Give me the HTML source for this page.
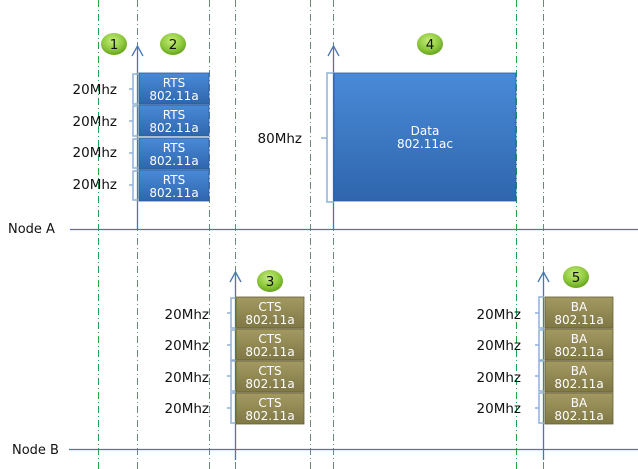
<!DOCTYPE html>
<html><head><meta charset="utf-8"><style>
html,body{margin:0;padding:0;background:#fff;}
svg{display:block;font-family:"DejaVu Sans","Liberation Sans",sans-serif;}
</style></head><body>
<svg width="638" height="469" viewBox="0 0 638 469" xmlns="http://www.w3.org/2000/svg">
<defs>
<linearGradient id="bl" x1="0" y1="0" x2="0" y2="1"><stop offset="0" stop-color="#4a8ad8"/><stop offset="1" stop-color="#2f66ad"/></linearGradient>
<linearGradient id="ol" x1="0" y1="0" x2="0" y2="1"><stop offset="0" stop-color="#a39a62"/><stop offset="1" stop-color="#7f7745"/></linearGradient>
<radialGradient id="gr" cx="0.45" cy="0.35" r="0.7"><stop offset="0" stop-color="#c6ec7a"/><stop offset="0.6" stop-color="#8cc83a"/><stop offset="1" stop-color="#5f9a1e"/></radialGradient>
</defs>
<g stroke="#1aa64a" stroke-width="1" stroke-dasharray="7,3,1,3" fill="none">
<line x1="98.5" y1="0" x2="98.5" y2="469"/>
<line x1="516.5" y1="0" x2="516.5" y2="469"/>
</g>
<g stroke="#6b8a78" stroke-width="1" stroke-dasharray="7,3,1,3" fill="none">
<line x1="137.5" y1="0" x2="137.5" y2="469"/>
<line x1="209.5" y1="0" x2="209.5" y2="469"/>
<line x1="235.5" y1="0" x2="235.5" y2="469"/>
<line x1="310.5" y1="0" x2="310.5" y2="469"/>
<line x1="333.5" y1="0" x2="333.5" y2="469"/>
<line x1="543.5" y1="0" x2="543.5" y2="469"/>
</g>
<g stroke="#4a76b0" stroke-width="1.3" fill="none">
<line x1="70" y1="229.5" x2="638" y2="229.5"/>
<line x1="69" y1="449.5" x2="638" y2="449.5"/>
<line x1="137.5" y1="46" x2="137.5" y2="229"/><polyline points="132,56 137.5,46 143,56"/>
<line x1="333.5" y1="46" x2="333.5" y2="229"/><polyline points="328,56 333.5,46 339,56"/>
<line x1="235.5" y1="272" x2="235.5" y2="460"/><polyline points="230,282 235.5,272 241,282"/>
<line x1="543.5" y1="272" x2="543.5" y2="460"/><polyline points="538,282 543.5,272 549,282"/>
</g>
<text x="8" y="233" font-size="13" fill="#111">Node A</text>
<text x="12" y="454" font-size="13" fill="#111">Node B</text>
<g stroke="#8fb0d8" stroke-width="1.5" fill="none">
<path d="M138,74 H133 V104 H138 M133,89 H129"/>
<path d="M138,106 H133 V136 H138 M133,121 H129"/>
<path d="M138,139 H133 V168 H138 M133,153 H129"/>
<path d="M138,171 H133 V200 H138 M133,185 H129"/>
<path d="M334,73 H327 V202 H334 M327,138 H321"/>
<path d="M236,298 H231 V328 H236 M231,313 H227"/>
<path d="M236,330 H231 V360 H236 M231,345 H227"/>
<path d="M236,361 H231 V391 H236 M231,376 H227"/>
<path d="M236,393 H231 V423 H236 M231,408 H227"/>
<path d="M544,297 H539 V328 H544 M539,313 H535"/>
<path d="M544,330 H539 V360 H544 M539,345 H535"/>
<path d="M544,361 H539 V391 H544 M539,376 H535"/>
<path d="M544,393 H539 V423 H544 M539,408 H535"/>
</g>
<g font-size="13.5" fill="#111" text-anchor="end">
<text x="117" y="94">20Mhz</text><text x="117" y="126">20Mhz</text><text x="117" y="157">20Mhz</text><text x="117" y="189">20Mhz</text>
<text x="302" y="143">80Mhz</text>
<text x="209" y="319">20Mhz</text><text x="209" y="350">20Mhz</text><text x="209" y="382">20Mhz</text><text x="209" y="413">20Mhz</text>
<text x="521" y="319">20Mhz</text><text x="521" y="350">20Mhz</text><text x="521" y="382">20Mhz</text><text x="521" y="413">20Mhz</text>
</g>
<g stroke="#2a5a98" stroke-width="0.8">
<rect x="139" y="73" width="70" height="31" fill="url(#bl)"/>
<rect x="139" y="105" width="70" height="31" fill="url(#bl)"/>
<rect x="139" y="138" width="70" height="31" fill="url(#bl)"/>
<rect x="139" y="170" width="70" height="31" fill="url(#bl)"/>
<rect x="334" y="73" width="182" height="128" fill="url(#bl)"/>
</g>
<g stroke="#665f34" stroke-width="0.8">
<rect x="236" y="297" width="68" height="31" fill="url(#ol)"/>
<rect x="236" y="329" width="68" height="31" fill="url(#ol)"/>
<rect x="236" y="361" width="68" height="31" fill="url(#ol)"/>
<rect x="236" y="393" width="68" height="31" fill="url(#ol)"/>
<rect x="545" y="297" width="68" height="31" fill="url(#ol)"/>
<rect x="545" y="329" width="68" height="31" fill="url(#ol)"/>
<rect x="545" y="361" width="68" height="31" fill="url(#ol)"/>
<rect x="545" y="393" width="68" height="31" fill="url(#ol)"/>
</g>
<g font-size="12" fill="#fff" text-anchor="middle">
<text x="174" y="87">RTS</text><text x="174" y="100">802.11a</text>
<text x="174" y="119">RTS</text><text x="174" y="132">802.11a</text>
<text x="174" y="152">RTS</text><text x="174" y="165">802.11a</text>
<text x="174" y="184">RTS</text><text x="174" y="197">802.11a</text>
<text x="425" y="135">Data</text><text x="425" y="148">802.11ac</text>
<text x="270" y="311">CTS</text><text x="270" y="324">802.11a</text>
<text x="270" y="343">CTS</text><text x="270" y="356">802.11a</text>
<text x="270" y="375">CTS</text><text x="270" y="388">802.11a</text>
<text x="270" y="407">CTS</text><text x="270" y="420">802.11a</text>
<text x="579" y="311">BA</text><text x="579" y="324">802.11a</text>
<text x="579" y="343">BA</text><text x="579" y="356">802.11a</text>
<text x="579" y="375">BA</text><text x="579" y="388">802.11a</text>
<text x="579" y="407">BA</text><text x="579" y="420">802.11a</text>
</g>
<g fill="url(#gr)">
<ellipse cx="114" cy="44" rx="13" ry="11"/>
<ellipse cx="173" cy="44" rx="13" ry="11"/>
<ellipse cx="270" cy="281" rx="13" ry="11"/>
<ellipse cx="430" cy="44" rx="13" ry="11"/>
<ellipse cx="576" cy="277" rx="13" ry="11"/>
</g>
<g font-size="13.5" fill="#111" text-anchor="middle">
<text x="114" y="49">1</text><text x="173" y="49">2</text><text x="270" y="286">3</text><text x="430" y="49">4</text><text x="576" y="282">5</text>
</g>
</svg>
</body></html>
